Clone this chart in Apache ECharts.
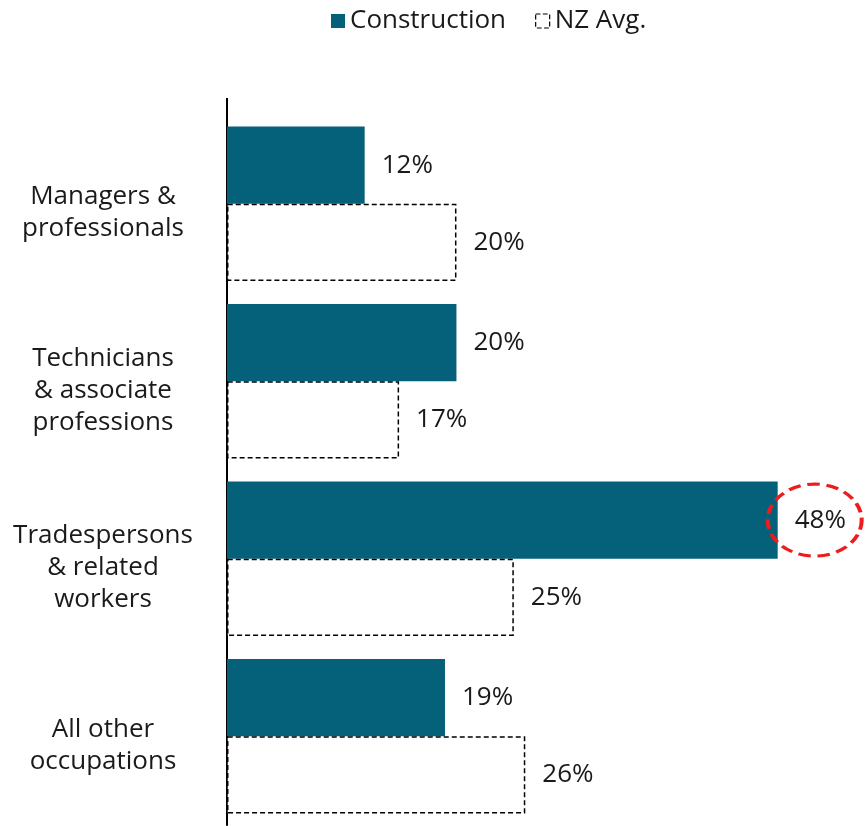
<!DOCTYPE html>
<html>
<head>
<meta charset="utf-8">
<script src="https://cdn.jsdelivr.net/npm/echarts@6/dist/echarts.min.js"></script>
<style>
  html, body { margin: 0; padding: 0; background: #fff; }
  #chart { width: 865px; height: 826px; }
</style>
</head>
<body>
<div id="chart"></div>
<script>
// occupation groups, top to bottom
const categories = [
  'Managers &\nprofessionals',
  'Technicians\n& associate\nprofessions',
  'Tradespersons\n& related\nworkers',
  'All other\noccupations'
]
const construction = [12, 20, 48, 19]
// bar lengths as drawn in the source (the 17% bar is drawn shorter than its label)
const nzAvg = [20, 15, 25, 26]
const nzAvgLabels = ['20%', '17%', '25%', '26%']
const seriesNames = ['Construction', 'NZ Avg.']

const teal = '#05617a'
const font = 'Open Sans'

const chart = echarts.init(document.getElementById('chart'))

const labelBase = {
  show: true,
  position: 'right',
  distance: 17,
  color: '#1a1a1a',
  fontSize: 26,
  fontFamily: font
}

chart.setOption({
  animation: false,
  legend: {
    top: 3,
    left: 326,
    icon: 'rect',
    itemWidth: 14,
    itemHeight: 14,
    itemGap: 29,
    textStyle: { fontSize: 26, color: '#1a1a1a', fontFamily: font },
    data: [
      { name: seriesNames[0], itemStyle: { color: teal } },
      { name: seriesNames[1], itemStyle: { color: '#fff', borderColor: '#000', borderWidth: 1.2, borderType: 'dashed' } }
    ]
  },
  grid: { left: 227, right: 7, top: 115, bottom: 1, containLabel: false },
  xAxis: {
    type: 'value',
    min: 0,
    max: 55,
    show: false
  },
  yAxis: {
    type: 'category',
    inverse: true,
    data: categories,
    axisLine: { show: true, lineStyle: { color: '#000', width: 2 } },
    axisTick: { show: false },
    axisLabel: {
      align: 'center',
      margin: 124,
      fontSize: 26,
      lineHeight: 32,
      color: '#1a1a1a',
      fontFamily: font,
      // a short blank first line nudges the text block down a little
      formatter: v => '{gap|}\n' + v,
      rich: { gap: { lineHeight: 18, fontSize: 10 } }
    }
  },
  graphic: [{
    type: 'line',
    shape: { x1: 227, y1: 98, x2: 227, y2: 116 },
    style: { stroke: '#000', lineWidth: 2 }
  }],
  series: [
    {
      name: seriesNames[0],
      type: 'bar',
      data: construction,
      barGap: '0%',
      barCategoryGap: '13%',
      itemStyle: { color: teal },
      label: Object.assign({}, labelBase, { formatter: p => p.value + '%' }),
      markPoint: {
        symbol: 'circle',
        symbolSize: [94, 72],
        symbolOffset: [37, 0],
        silent: true,
        label: { show: false },
        itemStyle: {
          color: 'rgba(0,0,0,0)',
          borderColor: '#ee1c1c',
          borderWidth: 3.5,
          borderType: [11, 6]
        },
        data: [{ coord: [construction[2], categories[2]] }]
      }
    },
    {
      name: seriesNames[1],
      type: 'bar',
      data: nzAvg,
      itemStyle: {
        color: '#fff',
        borderColor: '#000',
        borderWidth: 1.5,
        borderType: [5, 3]
      },
      label: Object.assign({}, labelBase, { formatter: p => nzAvgLabels[p.dataIndex] })
    }
  ]
})
</script>
</body>
</html>
